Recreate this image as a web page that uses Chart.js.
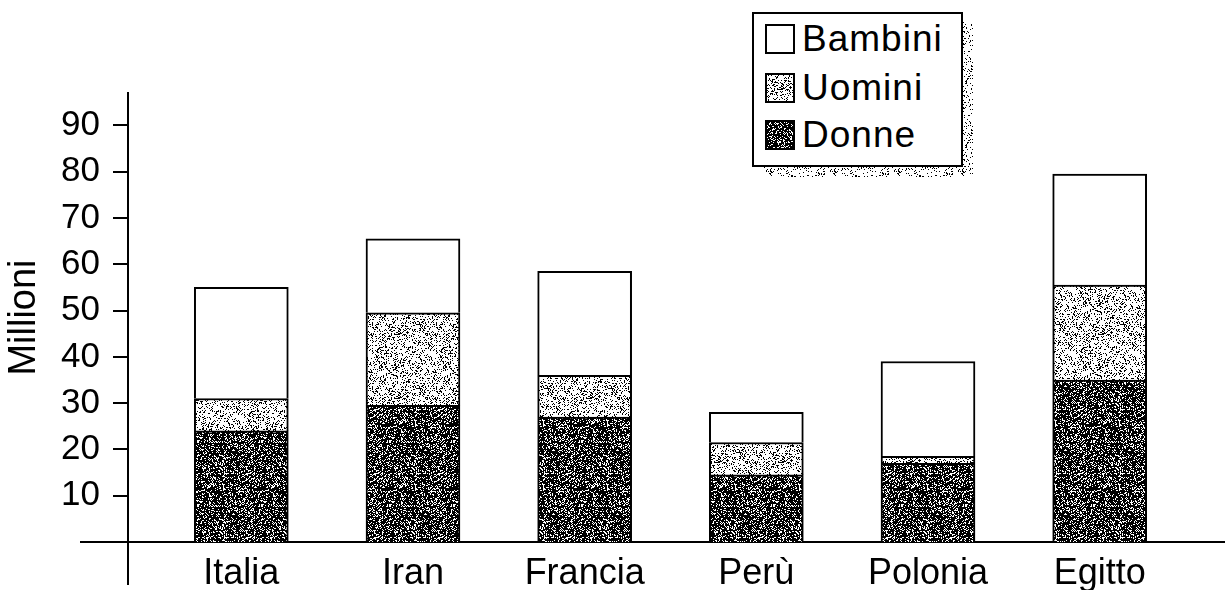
<!DOCTYPE html>
<html>
<head>
<meta charset="utf-8">
<script src="https://cdn.jsdelivr.net/npm/chart.js@4"></script>
<style>
  html, body { margin: 0; padding: 0; background: #fff; }
  #wrap { position: relative; width: 1225px; height: 590px; overflow: hidden; }
  #legend-shadow { position: absolute; left: 762px; top: 22px; width: 211px; height: 155px; }
  #legend {
    position: absolute; left: 752px; top: 12px; width: 207px; height: 151px;
    border: 2px solid #000; background: #fff;
    font-family: "Liberation Sans", Arial, sans-serif; font-size: 37px; letter-spacing: 1px; color: #000;
  }
  .item { position: absolute; left: 11px; height: 40px; display: flex; align-items: center; white-space: nowrap; }
  .sw { width: 26px; height: 26px; border: 2px solid #000; margin-right: 7px; background-repeat: repeat; }
</style>
</head>
<body>
<div id="wrap">
  <canvas id="c" width="1225" height="590"></canvas>
  <div id="legend-shadow"></div>
  <div id="legend"></div>
</div>
<script>
// Population by country, millions, split into women, men and children
const categories = ['Italia', 'Iran', 'Francia', 'Perù', 'Polonia', 'Egitto'];
const seriesNames = ['Donne', 'Uomini', 'Bambini'];
const donne   = [24, 29.5, 27, 14.5, 17, 35];
const uomini  = [7, 20, 9, 7, 1.5, 20.5];
const bambini = [24, 16, 22.5, 6.5, 20.5, 24];
const yTickValues = [10, 20, 30, 40, 50, 60, 70, 80, 90];
const yTitle = 'Millioni';

const FONT = '"Liberation Sans", Arial, sans-serif';

// Integer hash used to lay out a fixed stipple texture
function hash(x, y, s) {
  let n = Math.imul(x, 374761393) + Math.imul(y, 668265263) + Math.imul(s, 144665);
  n = Math.imul(n ^ (n >>> 13), 1274126177);
  n ^= n >>> 16;
  return (n >>> 0) / 4294967296;
}

function stipple(bg, fg, density, seed) {
  const c = document.createElement('canvas');
  c.width = c.height = 64;
  const g = c.getContext('2d');
  g.fillStyle = bg;
  g.fillRect(0, 0, 64, 64);
  g.fillStyle = fg;
  for (let y = 0; y < 64; y++) {
    for (let x = 0; x < 64; x++) {
      if (hash(x, y, seed) < density) g.fillRect(x, y, 1, 1);
    }
  }
  return c;
}

const canvas = document.getElementById('c');
const ctx = canvas.getContext('2d');
const darkTile = stipple('#000', '#fff', 0.27, 7);
const lightTile = stipple('#fff', '#000', 0.22, 3);
const shadowTile = stipple('#fff', '#000', 0.12, 11);
const fills = [
  ctx.createPattern(darkTile, 'repeat'),
  ctx.createPattern(lightTile, 'repeat'),
  '#ffffff'
];
const swatchCss = [
  'url(' + darkTile.toDataURL() + ')',
  'url(' + lightTile.toDataURL() + ')',
  'none'
];

const seriesValues = [donne, uomini, bambini];
const datasets = seriesValues.map((vals, k) => ({
  label: seriesNames[k],
  data: vals.map((v, i) => ({ x: i, y: v })),
  backgroundColor: fills[k],
  borderColor: '#000',
  borderWidth: 2,
  barThickness: 94
}));

// Axis lines that run past the plot corner, as in the printed figure
const axisTails = {
  id: 'axisTails',
  afterDraw(chart) {
    const { ctx: c, chartArea: a, scales } = chart;
    const y0 = scales.y.getPixelForValue(0);
    c.save();
    c.strokeStyle = '#000';
    c.lineWidth = 2;
    c.beginPath();
    c.moveTo(a.left - 48, y0);
    c.lineTo(a.left, y0);
    c.moveTo(a.left, y0);
    c.lineTo(a.left, y0 + 43);
    c.stroke();
    c.restore();
  }
};

const chart = new Chart(ctx, {
  type: 'bar',
  data: { datasets },
  plugins: [axisTails],
  options: {
    responsive: false,
    animation: false,
    devicePixelRatio: 1,
    layout: { padding: { top: 93, right: 0, bottom: 0, left: 0 } },
    plugins: { legend: { display: false }, tooltip: { enabled: false } },
    scales: {
      x: {
        type: 'linear',
        min: -0.66,
        max: 5.73,
        offset: false,
        stacked: true,
        grid: { display: false, drawTicks: false, offset: false },
        border: { display: true, color: '#000', width: 2 },
        afterBuildTicks: s => { s.ticks = categories.map((_, i) => ({ value: i })); },
        afterFit: s => { s.height = 48; },
        ticks: {
          autoSkip: false,
          maxRotation: 0,
          padding: 10,
          color: '#000',
          font: { family: FONT, size: 36 },
          callback: v => categories[Math.round(v)] ?? ''
        }
      },
      y: {
        min: 0,
        max: 97,
        stacked: true,
        afterBuildTicks: s => { s.ticks = yTickValues.map(v => ({ value: v })); },
        afterFit: s => { s.width = 128; },
        grid: { drawOnChartArea: false, tickLength: 15, color: '#000', lineWidth: 2 },
        border: { display: true, color: '#000', width: 2 },
        ticks: {
          padding: 13,
          color: '#000',
          font: { family: FONT, size: 35 }
        },
        title: {
          display: true,
          text: yTitle,
          color: '#000',
          padding: { top: 2, bottom: 0 },
          font: { family: FONT, size: 38 }
        }
      }
    }
  }
});

// Legend box, listed top to bottom in the reverse order of the stack
const legend = document.getElementById('legend');
const rowTops = [5, 54, 101];
[2, 1, 0].forEach((k, row) => {
  const item = document.createElement('div');
  item.className = 'item';
  item.style.top = rowTops[row] + 'px';
  const sw = document.createElement('span');
  sw.className = 'sw';
  sw.style.backgroundImage = swatchCss[k];
  sw.style.backgroundColor = '#fff';
  const tx = document.createElement('span');
  tx.textContent = chart.data.datasets[k].label;
  item.appendChild(sw);
  item.appendChild(tx);
  legend.appendChild(item);
});
document.getElementById('legend-shadow').style.backgroundImage = 'url(' + shadowTile.toDataURL() + ')';
</script>
</body>
</html>
